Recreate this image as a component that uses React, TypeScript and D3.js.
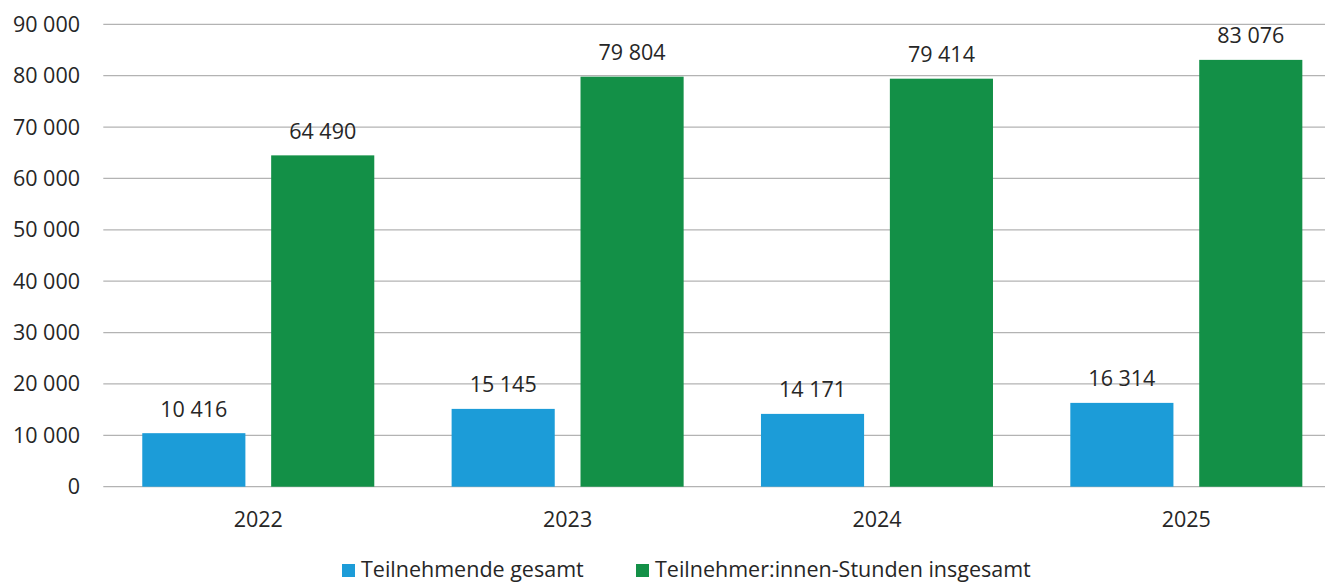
import React from "react";
import * as d3 from "d3";

const categories = ["2022", "2023", "2024", "2025"];
const seriesNames = ["Teilnehmende gesamt", "Teilnehmer:innen-Stunden insgesamt"];
const teilnehmende = [10416, 15145, 14171, 16314];
const stunden = [64490, 79804, 79414, 83076];
const yTicks = [0, 10000, 20000, 30000, 40000, 50000, 60000, 70000, 80000, 90000];
const colors = ["#1C9CD8", "#139047"];

const W = 1325;
const H = 582;
const FONT = "'Open Sans', sans-serif";

const fmt = (v: number) => d3.format(",")(v).replace(/,/g, " ");

export default function App() {
  const x = d3.scaleBand<string>().domain(categories).range([103.6, 1341]).paddingInner(0).paddingOuter(0);
  const xs = d3.scaleBand<string>().domain(seriesNames).range([0, x.bandwidth()]).paddingInner(0.2).paddingOuter(0.3);
  const y = d3.scaleLinear().domain([0, 90000]).range([486.7, 24.3]);
  const series = [teilnehmende, stunden];

  return (
    <svg width={W} height={H} style={{ position: "absolute", left: 0, top: 0, background: "#fff" }} fontFamily={FONT}>
      {yTicks.map((t) => (
        <g key={t}>
          <line x1={103.3} x2={W} y1={y(t)} y2={y(t)} stroke="#b3b3b3" strokeWidth={1.2} />
          <text x={80} y={y(t)} dy="0.35em" textAnchor="end" fontSize={21.5} fill="#262626">
            {fmt(t)}
          </text>
        </g>
      ))}
      {categories.map((c, i) => (
        <g key={c}>
          {series.map((vals, si) => {
            const bx = (x(c) as number) + (xs(seriesNames[si]) as number);
            const bw = xs.bandwidth();
            return (
              <g key={si}>
                <rect x={bx} y={y(vals[i])} width={bw} height={y(0) - y(vals[i])} fill={colors[si]} />
                <text x={bx + bw / 2} y={y(vals[i]) - 16.5} textAnchor="middle" fontSize={21.5} fill="#262626">
                  {fmt(vals[i])}
                </text>
              </g>
            );
          })}
          <text x={(x(c) as number) + x.bandwidth() / 2} y={527} textAnchor="middle" fontSize={21.5} fill="#262626">
            {c}
          </text>
        </g>
      ))}
      <rect x={342} y={564} width={13} height={13} fill={colors[0]} />
      <text x={361} y={577} fontSize={21.5} fill="#262626">{seriesNames[0]}</text>
      <rect x={636} y={564} width={13} height={13} fill={colors[1]} />
      <text x={655} y={577} fontSize={21.5} fill="#262626">{seriesNames[1]}</text>
    </svg>
  );
}
